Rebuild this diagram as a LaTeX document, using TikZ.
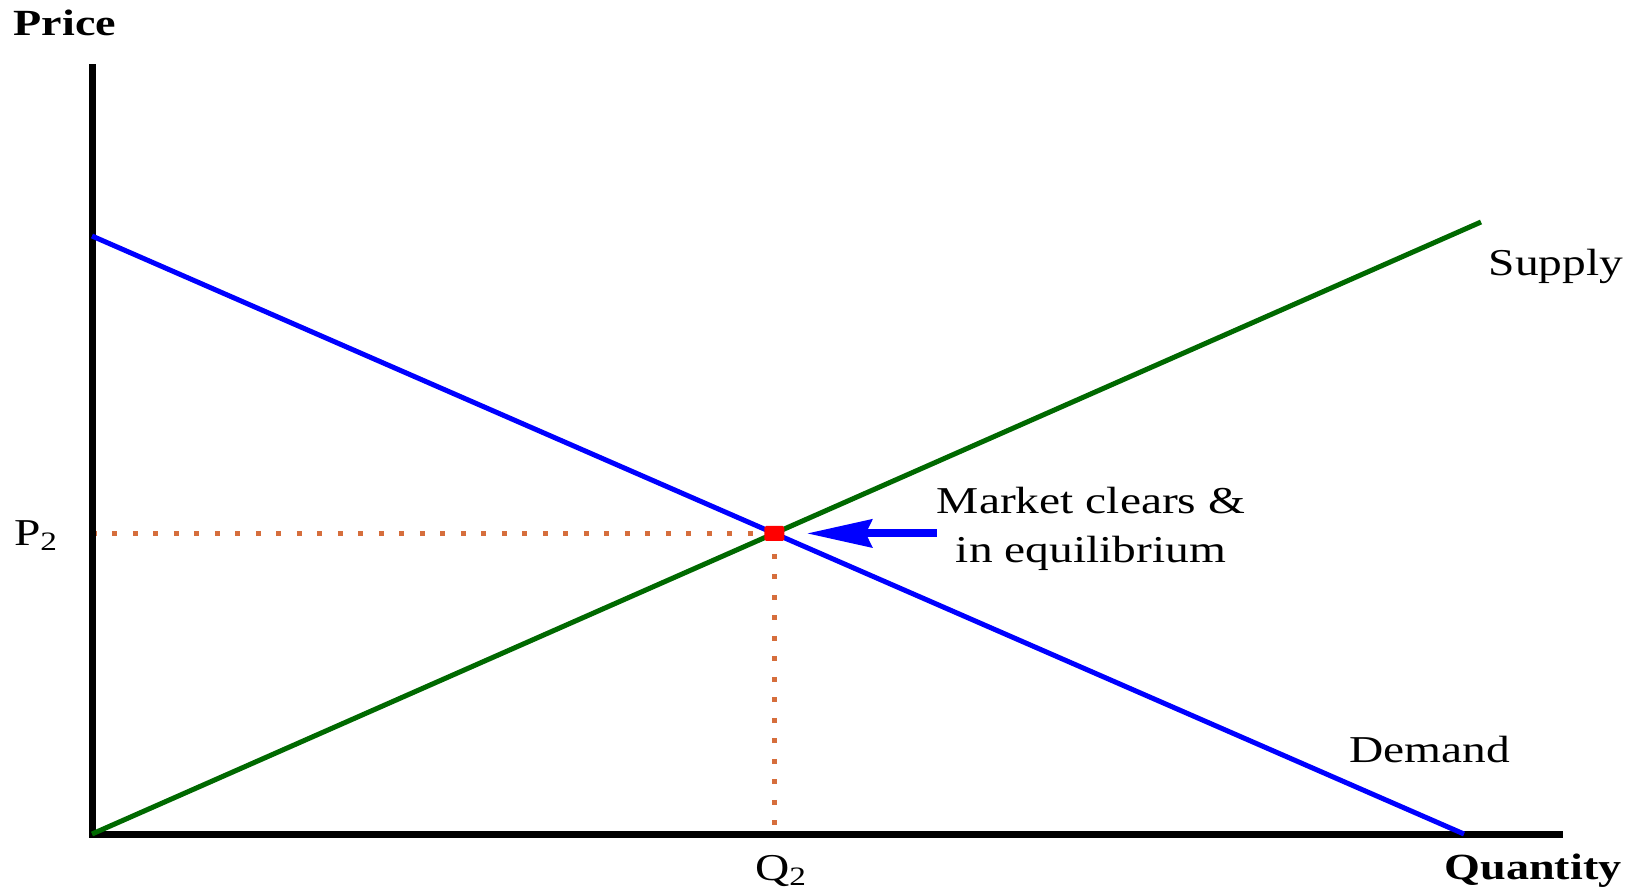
\documentclass[tikz,border=0pt]{standalone}
\usepackage{fontspec}
\setmainfont{Liberation Serif}[FakeStretch=1.25]
\usetikzlibrary{arrows.meta}
\definecolor{supplygreen}{RGB}{0,105,0}
\definecolor{dotorange}{RGB}{214,110,60}

\begin{document}
\begin{tikzpicture}[
  x=0.02cm, y=-0.02cm,
  axis/.style={line width=0.14cm, black},
  demandline/.style={line width=0.1cm, blue},
  supplyline/.style={line width=0.1cm, supplygreen},
  guide/.style={line width=0.1cm, dotorange, dash pattern=on 0.1cm off 0.31cm},
  eqdot/.style={fill=red, minimum width=0.4cm, minimum height=0.3cm, inner sep=0pt, rounded corners=1pt},
  clrarrow/.style={line width=0.16cm, blue, -{Stealth[length=1.3cm, width=0.55cm, inset=0.12cm]}},
  lbl/.style={font=\fontsize{21.6}{28}\selectfont, inner sep=0pt},
  axlbl/.style={font=\fontsize{21}{25}\selectfont\bfseries, inner sep=0pt}]
  \useasboundingbox (0,0) rectangle (1640,890);
  \coordinate (O) at (92,834);
  \coordinate (ytop) at (92,64);
  \coordinate (xend) at (1563,834);
  \coordinate (dstart) at (92,236);
  \coordinate (dend) at (1464,834);
  \coordinate (send) at (1481,222);
  \coordinate (eq) at (intersection of dstart--dend and O--send);
  % guide lines to the axes
  \draw[guide] (O |- eq) -- (eq);
  \draw[guide] (eq) -- (eq |- O);
  \draw[axis] (ytop) -- (O) -- (xend);
  \draw[demandline] (dstart) -- (dend);
  \draw[supplyline] (O) -- (send);
  \node[eqdot] (eqpt) at (eq) {};
  % labels
  \node[axlbl, anchor=base] (pricelbl) at (65,35) {Price};
  \node[axlbl, anchor=base] (qtylbl) at (1533,879) {Quantity};
  \node[lbl, anchor=base] (p2lbl) at (36,545) {P\textsubscript{2}};
  \node[lbl, anchor=base] (q2lbl) at (781,880) {Q\textsubscript{2}};
  \node[lbl, anchor=base] (supplylbl) at (1556,275) {Supply};
  \node[lbl, anchor=base] (demandlbl) at (1430,762) {Demand};
  \node[lbl, align=center] (note) at (1091,529) {Market clears \&\\in equilibrium};
  \draw[clrarrow] (note.west |- eqpt) -- ([xshift=0.44cm]eqpt.east);
\end{tikzpicture}
\end{document}
